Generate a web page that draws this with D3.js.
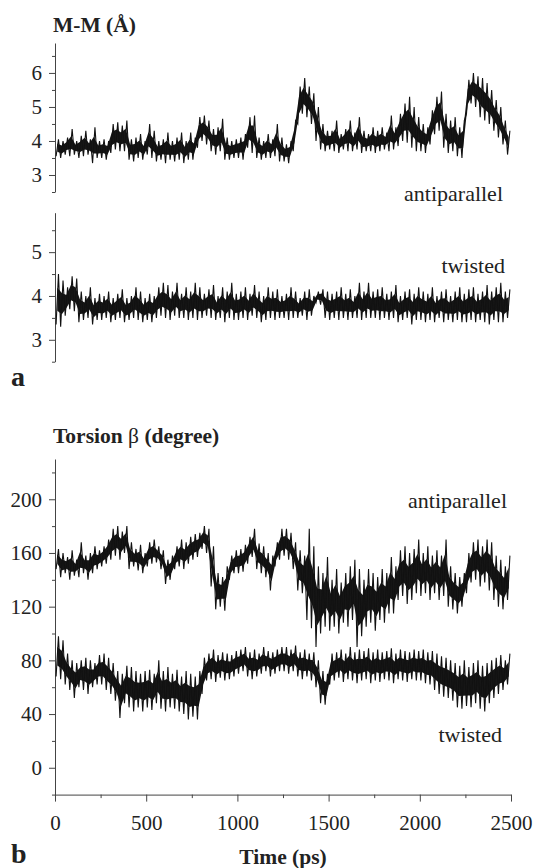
<!DOCTYPE html>
<html>
<head>
  <meta charset="utf-8">
  <title>M-M distance and torsion</title>
  <style>
    body { margin: 0; background: #fff; }
    svg { display: block; }
    text { font-family: "Liberation Serif", "Times New Roman", serif; fill: #222; }
    .axis path, .axis line { stroke: #444; stroke-width: 1; }
    .axis text { font-family: "Liberation Serif", serif; font-size: 21px; fill: #222; }
    .band { fill: #161616; stroke: none; }
    .trace { fill: none; stroke: #111; stroke-width: 1.1px; stroke-linejoin: miter; }
  </style>
</head>
<body>
  <script src="https://d3js.org/d3.v7.min.js"></script>
  <script>
    const binWidth = 25;

    // panel a, M-M distance (Å), antiparallel
    const aAntiHi = [
      4.05,4.0,4.1,4.35,4.0,4.15,4.3,4.05,4.4,4.0,
      4.05,4.0,4.5,4.55,4.45,4.6,4.05,4.1,4.2,4.0,
      4.5,4.3,4.0,4.05,4.25,4.0,4.1,4.25,4.0,4.25,
      4.1,4.7,4.75,4.6,4.35,4.4,4.65,4.1,4.0,4.05,
      4.1,4.2,4.7,4.75,4.1,4.0,4.2,4.05,4.5,4.1,
      3.9,4.0,4.6,5.6,5.85,5.6,5.4,5.0,4.5,4.3,
      4.3,4.6,4.2,4.35,4.6,4.25,4.7,4.3,4.2,4.4,
      4.3,4.4,4.25,4.75,4.4,4.8,5.1,5.3,5.0,4.7,
      4.5,4.4,4.9,5.3,5.45,4.8,4.6,4.7,4.4,4.6,
      5.8,6.0,5.9,5.85,5.7,5.5,5.2,5.0,4.6,4.3];
    const aAntiLo = [
      3.55,3.5,3.6,3.55,3.6,3.5,3.55,3.6,3.35,3.5,
      3.5,3.45,3.65,3.75,3.7,3.7,3.45,3.4,3.5,3.45,
      3.6,3.5,3.4,3.45,3.35,3.45,3.4,3.45,3.35,3.45,
      3.45,3.8,4.0,3.9,3.7,3.6,3.7,3.45,3.45,3.5,
      3.5,3.45,3.8,3.65,3.5,3.45,3.5,3.5,3.55,3.4,
      3.4,3.35,3.7,4.5,4.8,4.7,4.5,4.0,3.75,3.7,
      3.75,3.7,3.65,3.75,3.7,3.7,3.75,3.65,3.7,3.7,
      3.65,3.7,3.75,3.7,3.75,3.85,4.0,3.95,3.8,3.7,
      3.7,3.65,3.9,4.2,4.3,3.8,3.65,3.7,3.55,3.5,
      4.8,5.1,5.0,4.7,4.6,4.5,4.3,4.1,3.9,3.6];

    // panel a, M-M distance (Å), twisted
    const aTwHi = [
      4.5,4.35,4.2,4.45,4.4,4.1,4.0,4.2,3.95,4.05,
      4.0,4.1,3.95,4.05,4.15,3.95,4.0,4.2,4.1,3.95,
      4.05,4.0,4.2,4.3,4.25,4.1,4.3,4.05,4.2,4.1,
      4.3,4.2,4.05,4.15,4.25,4.0,4.2,4.1,4.3,4.05,
      4.1,4.2,4.05,4.25,4.1,4.0,4.2,4.1,4.15,4.0,
      4.05,4.2,4.1,3.95,4.1,4.15,4.0,4.1,4.15,4.1,
      4.05,4.1,4.2,4.05,4.15,4.0,4.3,4.1,4.3,4.1,
      4.15,4.2,4.05,4.1,4.25,4.0,4.1,4.15,4.05,4.2,
      4.1,4.05,4.2,4.0,4.1,4.15,4.0,4.1,4.2,4.05,
      4.15,4.2,4.05,4.1,4.25,4.1,4.2,4.3,4.1,4.15];
    const aTwLo = [
      3.35,3.3,3.55,3.7,3.65,3.4,3.45,3.5,3.35,3.45,
      3.45,3.5,3.4,3.45,3.5,3.4,3.45,3.5,3.45,3.4,
      3.45,3.4,3.5,3.55,3.5,3.45,3.55,3.5,3.5,3.45,
      3.5,3.45,3.5,3.55,3.5,3.45,3.5,3.4,3.5,3.45,
      3.45,3.5,3.45,3.55,3.5,3.4,3.45,3.5,3.45,3.5,
      3.5,3.45,3.5,3.5,3.55,3.45,3.55,3.85,3.8,3.5,
      3.45,3.5,3.45,3.5,3.45,3.5,3.5,3.45,3.5,3.5,
      3.5,3.45,3.5,3.45,3.5,3.4,3.45,3.5,3.35,3.45,
      3.45,3.4,3.45,3.4,3.5,3.4,3.45,3.4,3.45,3.4,
      3.4,3.45,3.4,3.45,3.4,3.35,3.45,3.4,3.4,3.5];

    // panel b, torsion beta (degree), antiparallel
    const bAntiHi = [
      163,160,157,162,155,168,158,160,165,162,
      165,170,178,180,176,180,168,163,166,160,
      168,170,165,162,155,158,165,170,168,172,
      174,175,180,178,165,145,142,150,158,162,
      163,166,172,178,167,165,160,158,168,178,
      178,175,168,162,158,178,165,150,145,157,
      140,148,138,145,150,155,148,140,148,145,
      142,148,145,157,150,162,165,160,163,170,
      160,165,158,162,158,170,150,145,142,145,
      160,168,170,165,170,168,158,155,150,158];
    const bAntiLo = [
      148,142,145,140,143,142,145,140,145,148,
      150,152,155,158,155,160,148,150,147,145,
      150,152,153,148,137,140,148,150,148,152,
      155,157,163,160,135,118,120,117,140,145,
      145,146,152,157,148,145,142,132,150,155,
      158,155,148,132,130,110,104,90,100,105,
      102,105,100,108,105,110,90,98,105,108,
      102,110,108,115,115,125,128,122,125,130,
      128,130,125,130,125,128,120,118,115,120,
      130,138,140,135,138,132,125,120,118,125];

    // panel b, torsion beta (degree), twisted
    const bTwHi = [
      98,95,85,80,78,80,82,80,78,84,
      85,82,78,72,70,76,75,72,70,72,
      73,70,80,72,75,70,73,68,72,70,
      68,72,82,85,88,84,86,85,84,87,
      88,90,86,88,85,90,87,86,88,90,
      90,88,91,86,88,85,86,80,72,70,
      85,86,88,85,90,86,88,87,89,86,
      88,86,87,89,85,88,87,86,88,87,
      88,86,87,85,83,82,80,78,76,80,
      75,78,80,76,78,80,82,84,80,85];
    const bTwLo = [
      68,66,62,58,52,60,58,55,60,62,
      62,58,55,50,37,48,45,42,45,42,
      45,43,48,44,42,45,44,42,40,36,
      38,36,55,65,66,64,67,65,66,68,
      70,72,68,66,68,70,72,68,70,72,
      72,70,72,68,66,68,65,60,48,47,
      62,65,67,64,66,65,63,65,66,63,
      65,64,66,65,63,66,65,64,66,65,
      65,63,62,58,55,53,52,50,45,44,
      46,45,48,44,42,48,52,55,58,62];

    const timeTicks = [0, 500, 1000, 1500, 2000, 2500];
    const timeMinor = [250, 750, 1250, 1750, 2250];
    const mmTicks = [3, 4, 5, 6];
    const mmMinor = [2.5, 3.5, 4.5, 5.5, 6.5];
    const mmTicks2 = [3, 4, 5];
    const mmMinor2 = [2.5, 3.5, 4.5, 5.5];
    const torTicks = [0, 40, 80, 120, 160, 200];
    const torMinor = [-20, 20, 60, 100, 140, 180, 220];

    const W = 533, H = 868;
    const svg = d3.select("body").append("svg").attr("width", W).attr("height", H);

    const x = d3.scaleLinear().domain([0, 2500]).range([55, 511]);
    const yA1 = d3.scaleLinear().domain([2.5, 6.88]).range([192, 43]);
    const yA2 = d3.scaleLinear().domain([2.5, 5.9]).range([361.7, 212.7]);
    const yB = d3.scaleLinear().domain([-20, 230]).range([794.6, 459]);

    function zigzag(lo, hi) {
      return lo.flatMap((l, i) => [
        { t: i * binWidth + 6, v: l },
        { t: i * binWidth + 19, v: hi[i] }
      ]);
    }

    function yAxis(y, major, minor) {
      const g = svg.append("g").attr("class", "axis").attr("transform", "translate(55,0)");
      g.call(d3.axisLeft(y).tickValues(major).tickSize(6).tickSizeOuter(0).tickPadding(7).tickFormat(d3.format("d")));
      g.append("g").call(d3.axisLeft(y).tickValues(minor).tickSize(3).tickSizeOuter(0).tickFormat(""))
        .select(".domain").remove();
    }

    function trace(y, lo, hi) {
      // dense core of the trace: area between the low and high edges, inset so the spikes stand out
      const rows = lo.map((l, i) => ({ t: i * binWidth + 12.5, lo: l, hi: hi[i] }));
      const area = d3.area().x(d => x(d.t))
        .y0(d => y(d.lo + (d.hi - d.lo) * 0.27))
        .y1(d => y(d.hi - (d.hi - d.lo) * 0.27));
      svg.append("path").attr("class", "band").attr("d", area(rows));
      const line = d3.line().x(d => x(d.t)).y(d => y(d.v));
      svg.append("path").attr("class", "trace").attr("d", line(zigzag(lo, hi)));
    }

    // panel a
    yAxis(yA1, mmTicks, mmMinor);
    yAxis(yA2, mmTicks2, mmMinor2);
    trace(yA1, aAntiLo, aAntiHi);
    trace(yA2, aTwLo, aTwHi);

    // panel b
    yAxis(yB, torTicks, torMinor);
    const xg = svg.append("g").attr("class", "axis").attr("transform", `translate(0,${yB(-20)})`);
    xg.call(d3.axisBottom(x).tickValues(timeTicks).tickSize(7).tickSizeOuter(0).tickPadding(13).tickFormat(d3.format("d")));
    xg.append("g").call(d3.axisBottom(x).tickValues(timeMinor).tickSize(3.5).tickSizeOuter(0).tickFormat(""))
      .select(".domain").remove();
    trace(yB, bAntiLo, bAntiHi);
    trace(yB, bTwLo, bTwHi);

    // titles and labels
    svg.append("text").attr("x", 53).attr("y", 32).attr("font-size", 21.5).attr("font-weight", "bold").text("M-M (Å)");
    const tt = svg.append("text").attr("x", 53).attr("y", 443).attr("font-size", 21.5).attr("font-weight", "bold");
    tt.append("tspan").text("Torsion ");
    tt.append("tspan").attr("font-weight", "normal").text("β");
    tt.append("tspan").text(" (degree)");
    svg.append("text").attr("x", 283).attr("y", 864).attr("text-anchor", "middle")
      .attr("font-size", 21.5).attr("font-weight", "bold").text("Time (ps)");

    const labels = [
      { s: "antiparallel", x: 503, y: 201 },
      { s: "twisted", x: 505, y: 273 },
      { s: "antiparallel", x: 507, y: 508 },
      { s: "twisted", x: 502, y: 742 }
    ];
    svg.selectAll(".lab").data(labels).join("text").attr("class", "lab")
      .attr("x", d => d.x).attr("y", d => d.y).attr("text-anchor", "end")
      .attr("font-size", 22).text(d => d.s);

    svg.append("text").attr("x", 11).attr("y", 386).attr("font-size", 28).attr("font-weight", "bold").text("a");
    svg.append("text").attr("x", 11).attr("y", 863).attr("font-size", 28).attr("font-weight", "bold").text("b");
  </script>
</body>
</html>
